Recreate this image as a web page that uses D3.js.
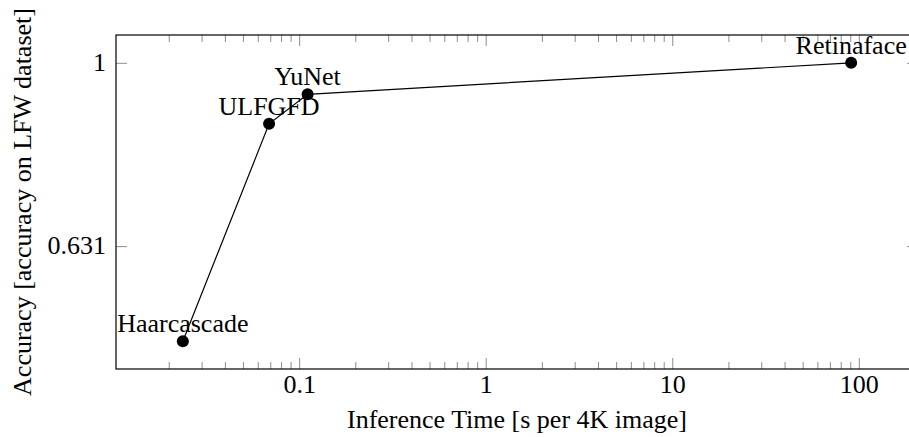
<!DOCTYPE html>
<html lang="en">
<head>
<meta charset="utf-8">
<title>Accuracy vs inference time</title>
<script src="https://cdn.jsdelivr.net/npm/d3@7"></script>
<style>
  body { margin: 0; background: white; overflow: hidden; }
  svg { display: block; }
  svg text { font-family: "Liberation Serif", "Times New Roman", serif; fill: black; }
</style>
</head>
<body>
<svg id="chart" width="909" height="437"></svg>
<script>
// data
var models = ["Haarcascade", "ULFGFD", "YuNet", "Retinaface"];
var times = [0.0238, 0.069, 0.111, 91];       // s per 4K image
var accuracy = [0.497, 0.858, 0.924, 1.0];    // accuracy on LFW

var xTickValues = [0.1, 1, 10, 100];
var xTickLabels = ["0.1", "1", "10", "100"];
var yTickValues = [0.631, 1];
var yTickLabels = ["0.631", "1"];

var points = models.map(function(m, i){
  return {name: m, t: times[i], acc: accuracy[i]};
});

// plot box (right edge runs past the window like the original)
// note: can't call a global "top", that's window.top
var boxL = 116, boxT = 35, boxB = 369, boxR = 918;
var fontSize = 26;

// pgfplots style: data range widened by 10% on each side, in log space
function enlarged(vals){
  var lo = d3.min(vals, Math.log10), hi = d3.max(vals, Math.log10);
  var pad = (hi - lo) * 0.1;
  return [Math.pow(10, lo - pad), Math.pow(10, hi + pad)];
}

var x = d3.scaleLog().domain(enlarged(times)).range([boxL, boxR]);
var y = d3.scaleLog().domain(enlarged(accuracy)).range([boxB, boxT]);

// minor ticks 2..9 in every decade that is on the axis
var minor = [];
[0.01, 0.1, 1, 10, 100].forEach(function(dec){
  for (var k = 2; k <= 9; k++){
    var v = dec * k;
    if (v >= x.domain()[0] && v <= x.domain()[1]) minor.push(v);
  }
});

var svg = d3.select("#chart");

function styleTicks(g){
  g.select(".domain").remove();
  g.selectAll("line").attr("stroke", "#808080").attr("stroke-width", 0.9);
}

// bottom axis
svg.append("g")
  .attr("transform", "translate(0," + boxB + ")")
  .call(d3.axisBottom(x).tickValues(minor).tickSize(-7).tickFormat(""))
  .call(styleTicks);

svg.append("g")
  .attr("transform", "translate(0," + boxB + ")")
  .call(d3.axisBottom(x).tickValues(xTickValues).tickSize(-11)
        .tickFormat(function(d, i){ return xTickLabels[i]; }))
  .call(styleTicks)
  .call(function(g){
    g.attr("font-family", null).attr("font-size", null);
    g.selectAll("text").attr("y", 24).attr("dy", null).style("font-size", fontSize + "px");
  });

// top axis
svg.append("g")
  .attr("transform", "translate(0," + boxT + ")")
  .call(d3.axisTop(x).tickValues(minor).tickSize(-7).tickFormat(""))
  .call(styleTicks);

svg.append("g")
  .attr("transform", "translate(0," + boxT + ")")
  .call(d3.axisTop(x).tickValues(xTickValues).tickSize(-11).tickFormat(""))
  .call(styleTicks);

// left axis
svg.append("g")
  .attr("transform", "translate(" + boxL + ",0)")
  .call(d3.axisLeft(y).tickValues(yTickValues).tickSize(-11).tickPadding(10)
        .tickFormat(function(d, i){ return yTickLabels[i]; }))
  .call(styleTicks)
  .call(function(g){
    g.attr("font-family", null).attr("font-size", null);
    g.selectAll("text").attr("dy", "0.3em").style("font-size", fontSize + "px");
  });

// right axis
svg.append("g")
  .attr("transform", "translate(" + boxR + ",0)")
  .call(d3.axisRight(y).tickValues(yTickValues).tickSize(-11).tickFormat(""))
  .call(styleTicks);

// frame
svg.append("rect")
  .attr("x", boxL).attr("y", boxT)
  .attr("width", boxR - boxL).attr("height", boxB - boxT)
  .attr("fill", "none").attr("stroke", "black").attr("stroke-width", 1.2);

// line + markers
var line = d3.line()
  .x(function(d){ return x(d.t); })
  .y(function(d){ return y(d.acc); });

svg.append("path")
  .datum(points)
  .attr("d", line)
  .attr("fill", "none")
  .attr("stroke", "black")
  .attr("stroke-width", 1.2);

svg.selectAll(".dot")
  .data(points)
  .enter().append("circle")
  .attr("class", "dot")
  .attr("cx", function(d){ return x(d.t); })
  .attr("cy", function(d){ return y(d.acc); })
  .attr("r", 6)
  .attr("fill", "black");

svg.selectAll(".lbl")
  .data(points)
  .enter().append("text")
  .attr("class", "lbl")
  .attr("x", function(d){ return x(d.t); })
  .attr("y", function(d){ return y(d.acc) - 9; })
  .attr("text-anchor", "middle")
  .style("font-size", fontSize + "px")
  .text(function(d){ return d.name; });

// axis titles
svg.append("text")
  .attr("x", (boxL + boxR) / 2)
  .attr("y", 428)
  .attr("text-anchor", "middle")
  .style("font-size", fontSize + "px")
  .text("Inference Time [s per 4K image]");

svg.append("text")
  .attr("transform", "translate(31," + (boxT + boxB) / 2 + ") rotate(-90)")
  .attr("text-anchor", "middle")
  .style("font-size", fontSize + "px")
  .text("Accuracy [accuracy on LFW dataset]");
</script>
</body>
</html>
